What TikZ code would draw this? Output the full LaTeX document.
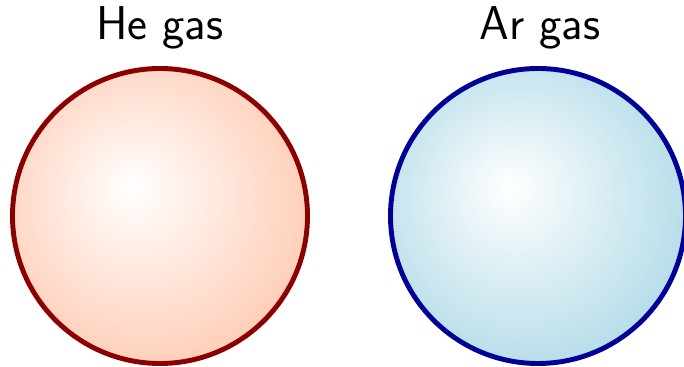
\documentclass[tikz,border=0pt]{standalone}
\usepackage{tikz}
\usetikzlibrary{positioning}
\definecolor{hefill}{RGB}{255,200,175}
\definecolor{heedge}{RGB}{140,0,0}
\definecolor{arfill}{RGB}{173,216,230}
\definecolor{aredge}{RGB}{0,0,150}
\pgfdeclareradialshading{heshade}{\pgfqpoint{-5bp}{5bp}}{color(0bp)=(white); color(32bp)=(hefill); color(50bp)=(hefill)}
\pgfdeclareradialshading{arshade}{\pgfqpoint{-5bp}{5bp}}{color(0bp)=(white); color(32bp)=(arfill); color(50bp)=(arfill)}
\tikzset{
  gasball/.style={
    circle,
    shade,
    draw,
    line width=2.8pt,
    minimum size=5.9cm,
    inner sep=0pt
  },
  gaslabel/.style={
    anchor=base,
    font=\fontsize{27}{32}\selectfont\sffamily
  }
}
\begin{document}
\begin{tikzpicture}
  \useasboundingbox (0,0) rectangle (13.68,7.34);
  \node[gasball, shading=heshade, draw=heedge] (he) at (3.2,3.02) {};
  \node[gasball, shading=arshade, draw=aredge] (ar) at (10.76,3.02) {};

  \node[gaslabel] (helabel) at (3.2,6.54) {He gas};
  \node[gaslabel] (arlabel) at (10.8,6.54) {Ar gas};
\end{tikzpicture}
\end{document}
